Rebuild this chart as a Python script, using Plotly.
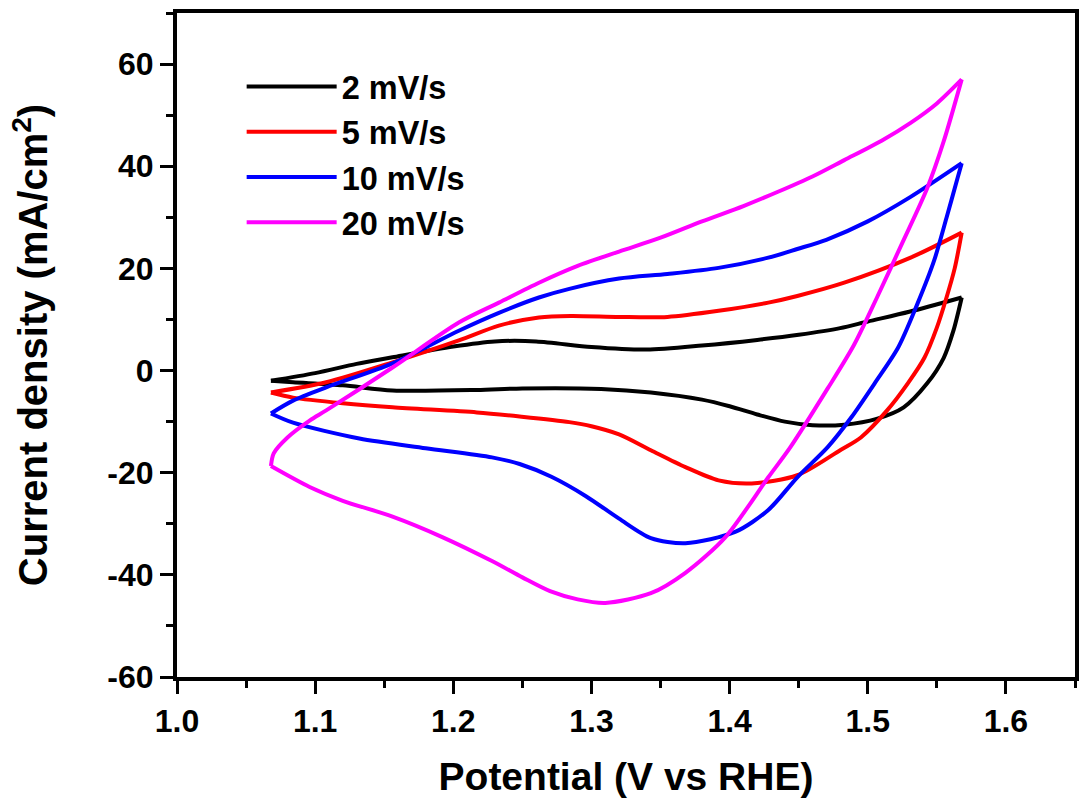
import plotly.graph_objects as go

names = ["2 mV/s", "5 mV/s", "10 mV/s", "20 mV/s"]
colors = ["#000000", "#FF0000", "#0000FF", "#FF00FF"]

# anodic (forward) sweeps
fwd_v = [
    [1.068, 1.10, 1.13, 1.156, 1.20, 1.23, 1.26, 1.30, 1.34, 1.38, 1.42, 1.45, 1.48, 1.50, 1.53, 1.568],
    [1.068, 1.108, 1.156, 1.204, 1.233, 1.262, 1.285, 1.32, 1.355, 1.392, 1.428, 1.449, 1.483, 1.531, 1.568],
    [1.068, 1.084, 1.108, 1.156, 1.204, 1.233, 1.262, 1.284, 1.32, 1.355, 1.392, 1.428, 1.449, 1.47, 1.50, 1.531, 1.568],
    [1.068, 1.070, 1.08, 1.096, 1.108, 1.156, 1.204, 1.233, 1.262, 1.29, 1.32, 1.35, 1.38, 1.41, 1.435, 1.46, 1.483, 1.51, 1.531, 1.55, 1.568],
]
fwd_j = [
    [-2.0, -0.5, 1.3, 2.6, 4.7, 5.7, 5.7, 4.6, 4.1, 4.9, 6.0, 7.0, 8.3, 9.6, 11.5, 14.3],
    [-4.3, -2.3, 1.6, 5.9, 8.8, 10.4, 10.7, 10.5, 10.5, 11.7, 13.3, 14.6, 17.2, 22.1, 27.0],
    [-8.4, -5.9, -3.3, 1.4, 7.8, 11.3, 14.3, 16.0, 18.0, 18.9, 20.1, 22.1, 23.8, 25.6, 29.2, 34.0, 40.6],
    [-18.7, -16.2, -13.1, -9.8, -7.8, 0.6, 9.4, 13.3, 17.2, 20.5, 23.3, 26.0, 29.2, 32.2, 35.0, 38.0, 41.2, 45.0, 48.5, 52.3, 57.0],
]

# cathodic (reverse) sweeps
rev_v = [
    [1.568, 1.566, 1.562, 1.555, 1.543, 1.526, 1.507, 1.483, 1.46, 1.44, 1.42, 1.40, 1.38, 1.343, 1.307, 1.25, 1.217, 1.156, 1.12, 1.084, 1.068],
    [1.568, 1.563, 1.557, 1.55, 1.541, 1.529, 1.514, 1.495, 1.48, 1.449, 1.416, 1.392, 1.368, 1.343, 1.32, 1.30, 1.284, 1.248, 1.217, 1.156, 1.12, 1.084, 1.068],
    [1.568, 1.565, 1.557, 1.548, 1.536, 1.522, 1.505, 1.488, 1.471, 1.449, 1.428, 1.404, 1.368, 1.343, 1.32, 1.296, 1.271, 1.248, 1.228, 1.18, 1.132, 1.084, 1.068],
    [1.568, 1.555, 1.543, 1.525, 1.507, 1.49, 1.471, 1.444, 1.428, 1.397, 1.368, 1.343, 1.31, 1.29, 1.27, 1.25, 1.228, 1.192, 1.156, 1.12, 1.096, 1.068],
]
rev_j = [
    [14.3, 12.0, 7.8, 2.5, -2.5, -7.2, -9.4, -10.6, -10.7, -10.0, -8.6, -7.0, -5.7, -4.3, -3.6, -3.5, -3.8, -3.9, -2.9, -2.3, -2.0],
    [27.0, 20.1, 14.3, 8.4, 2.5, -2.5, -7.8, -13.1, -15.6, -20.5, -22.1, -21.5, -18.9, -15.6, -12.5, -10.9, -10.1, -9.0, -8.2, -7.2, -6.4, -5.3, -4.3],
    [40.6, 37.7, 29.9, 21.5, 13.1, 4.5, -2.5, -9.2, -15.0, -20.9, -27.3, -31.6, -33.8, -32.8, -29.0, -24.6, -20.8, -18.3, -17.0, -15.2, -13.3, -10.2, -8.4],
    [57.0, 44.9, 35.7, 25.0, 14.5, 5.0, -3.5, -15.0, -20.9, -32.6, -39.6, -43.6, -45.5, -44.8, -43.2, -40.5, -37.3, -32.6, -28.6, -25.5, -22.8, -18.7],
]

x_ticks = [1.0, 1.1, 1.2, 1.3, 1.4, 1.5, 1.6]
x_labels = ["1.0", "1.1", "1.2", "1.3", "1.4", "1.5", "1.6"]
y_ticks = [-60, -40, -20, 0, 20, 40, 60]
y_labels = ["-60", "-40", "-20", "0", "20", "40", "60"]

FONT = "Liberation Sans, Arial, sans-serif"

fig = go.Figure()
for i in range(len(names)):
    fig.add_trace(go.Scatter(
        x=fwd_v[i], y=fwd_j[i], mode="lines", name=names[i],
        legendgroup=names[i], showlegend=True,
        line=dict(color=colors[i], width=4, shape="spline", smoothing=0.8),
    ))
    fig.add_trace(go.Scatter(
        x=rev_v[i], y=rev_j[i], mode="lines", name=names[i],
        legendgroup=names[i], showlegend=False,
        line=dict(color=colors[i], width=4, shape="spline", smoothing=0.8),
    ))

axis_common = dict(
    showline=True, linecolor="black", linewidth=4, mirror=True,
    ticks="outside", ticklen=13, tickwidth=3, tickcolor="black",
    showgrid=False, zeroline=False,
    tickfont=dict(family=FONT, size=32, color="black", weight="bold"),
)

fig.update_layout(
    width=1081, height=801,
    margin=dict(l=177, r=2, t=13, b=124),
    plot_bgcolor="white", paper_bgcolor="white",
    xaxis=dict(
        range=[1.0, 1.65], tickvals=x_ticks, ticktext=x_labels,
        minor=dict(dtick=0.05, ticks="outside", ticklen=7, tickwidth=3, tickcolor="black"),
        title=dict(text="Potential (V vs RHE)", standoff=25,
                   font=dict(family=FONT, size=39, color="black", weight="bold")),
        **axis_common,
    ),
    yaxis=dict(
        range=[-60, 70], tickvals=y_ticks, ticktext=y_labels,
        minor=dict(dtick=10, ticks="outside", ticklen=7, tickwidth=3, tickcolor="black"),
        title=dict(text="Current density (mA/cm<sup>2</sup>)", standoff=48,
                   font=dict(family=FONT, size=40, color="black", weight="bold")),
        **axis_common,
    ),
    legend=dict(
        x=0.072, y=0.931, xanchor="left", yanchor="top",
        bgcolor="rgba(0,0,0,0)", borderwidth=0,
        font=dict(family=FONT, size=32.5, color="black", weight="bold"),
        itemwidth=90, tracegroupgap=0,
    ),
)

fig.write_html("out.html")
